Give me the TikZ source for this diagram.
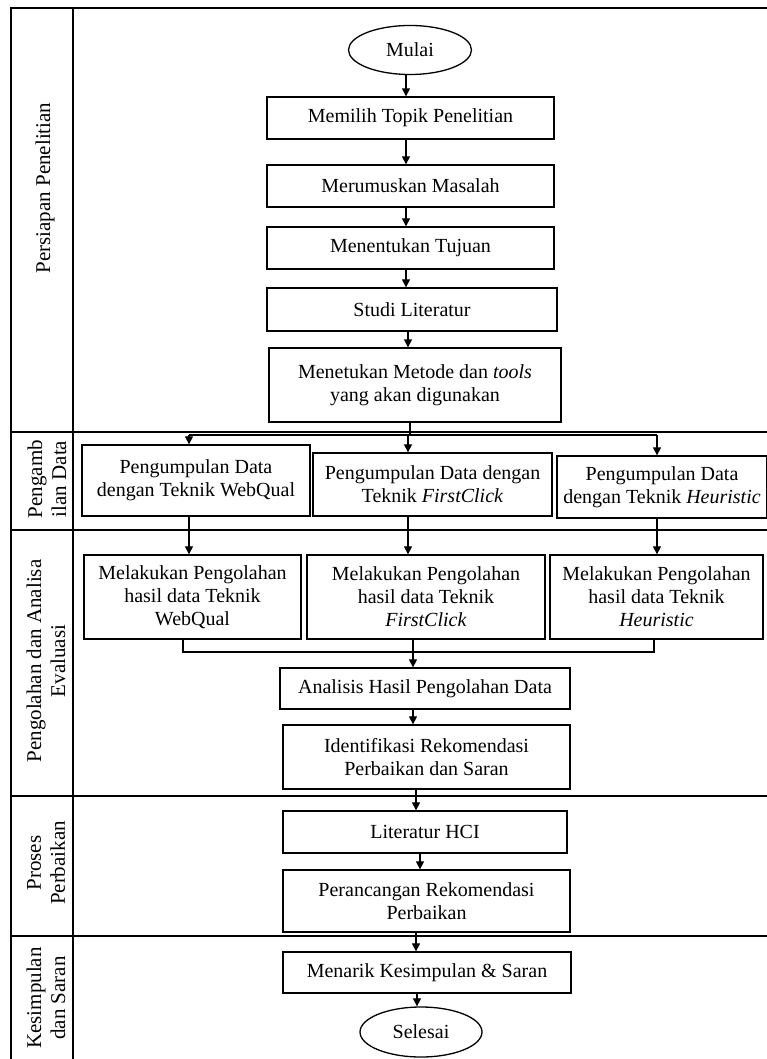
\documentclass[tikz,border=0pt]{standalone}
\usepackage{fontspec}
\setmainfont{Liberation Serif}
\usetikzlibrary{arrows.meta,shapes.geometric}
\begin{document}
\begin{tikzpicture}[x=1pt,y=-1pt,
  lane/.style={line width=1.6pt},
  box/.style={draw, line width=1.3pt, align=center, inner sep=0pt, font=\fontsize{20}{23}\selectfont},
  term/.style={draw, ellipse, line width=1.3pt, inner sep=0pt, font=\fontsize{20}{23}\selectfont},
  lbl/.style={rotate=90, align=center, font=\fontsize{21}{24}\selectfont},
  arr/.style={line width=1.2pt, -{Triangle[width=8pt,length=8pt]}},
  ln/.style={line width=1.2pt}]
\useasboundingbox (0,0) rectangle (767,1059);
% swimlane frame
\draw[lane] (11,1059) -- (11,8) -- (767,8);
\draw[lane] (73,8) -- (73,1059);
\draw[lane] (11,432) -- (767,432);
\draw[lane] (11,530) -- (767,530);
\draw[lane] (11,796) -- (767,796);
\draw[lane] (11,936) -- (767,936);
% lane labels
\node[lbl] (l1) at (45,188) {Persiapan Penelitian};
\node[lbl] (l2) at (47,479) {Pengamb\\ilan Data};
\node[lbl] (l3) at (46,661) {Pengolahan dan Analisa\\Evaluasi};
\node[lbl] (l4) at (46,863) {Proses\\Perbaikan};
\node[lbl] (l5) at (46,998) {Kesimpulan\\dan Saran};
% lane 1
\node[term, minimum width=123pt, minimum height=49pt] (mulai) at (410,50) {Mulai};
\node[box, minimum width=287pt, minimum height=42pt] (n1) at (410.5,118) {Memilih Topik Penelitian};
\node[box, minimum width=287pt, minimum height=42pt] (n2) at (410.5,186) {Merumuskan Masalah};
\node[box, minimum width=287pt, minimum height=42pt] (n3) at (410.5,248) {Menentukan Tujuan};
\node[box, minimum width=290pt, minimum height=43pt] (n4) at (412,309.5) {Studi Literatur};
\node[box, minimum width=292pt, minimum height=74pt] (n5) at (415,385) {Menetukan Metode dan \textit{tools}\\yang akan digunakan};
% lane 2
\node[box, minimum width=228pt, minimum height=71pt] (p1) at (196,480.5) {Pengumpulan Data\\dengan Teknik WebQual};
\node[box, minimum width=239pt, minimum height=63pt] (p2) at (432.5,484.5) {Pengumpulan Data dengan\\Teknik \textit{FirstClick}};
\node[box, minimum width=210pt, minimum height=62pt] (p3) at (662,487) {Pengumpulan Data\\dengan Teknik \textit{Heuristic}};
% lane 3
\node[box, minimum width=217pt, minimum height=84pt] (q1) at (192.5,597) {Melakukan Pengolahan\\hasil data Teknik\\WebQual};
\node[box, minimum width=238pt, minimum height=84pt] (q2) at (426,597) {Melakukan Pengolahan\\hasil data Teknik\\\textit{FirstClick}};
\node[box, minimum width=213pt, minimum height=84pt] (q3) at (656.5,597) {Melakukan Pengolahan\\hasil data Teknik\\\textit{Heuristic}};
\node[box, minimum width=290pt, minimum height=41pt] (an) at (425,688.5) {Analisis Hasil Pengolahan Data};
\node[box, minimum width=287pt, minimum height=64pt] (id) at (426.5,757) {Identifikasi Rekomendasi\\Perbaikan dan Saran};
% lane 4
\node[box, minimum width=284pt, minimum height=42pt] (lit) at (425,832) {Literatur HCI};
\node[box, minimum width=287pt, minimum height=62pt] (per) at (426.5,901) {Perancangan Rekomendasi\\Perbaikan};
% lane 5
\node[box, minimum width=288pt, minimum height=41pt] (mk) at (427,972.5) {Menarik Kesimpulan \& Saran};
\node[term, minimum width=122pt, minimum height=50pt] (sel) at (421,1032) {Selesai};
% connector columns
\coordinate (xa) at (406,0);
\coordinate (xb) at (408,0);
\coordinate (dist) at (410,435);
\coordinate (dl) at (189,435);
\coordinate (dm) at (408,435);
\coordinate (dr) at (657,435);
\coordinate (ml) at (183,652);
\coordinate (mm) at (413,652);
\coordinate (mr) at (654,652);
\coordinate (xc) at (416,0);
\coordinate (xd) at (420,0);
\coordinate (xe) at (417,0);
% connectors
\draw[arr] (mulai.south -| xa) -- (n1.north -| xa);
\draw[arr] (n1.south -| xa) -- (n2.north -| xa);
\draw[arr] (n2.south -| xa) -- (n3.north -| xa);
\draw[arr] (n3.south -| xa) -- (n4.north -| xa);
\draw[arr] (n4.south -| xb) -- (n5.north -| xb);
\draw[ln] (n5.south -| dist) -- (dist);
\draw[ln] (dl) -- (dr);
\draw[arr] (dl) -- (p1.north -| dl);
\draw[arr] (dm) -- (p2.north -| dm);
\draw[arr] (dr) -- (p3.north -| dr);
\draw[arr] (p1.south -| dl) -- (q1.north -| dl);
\draw[arr] (p2.south -| dm) -- (q2.north -| dm);
\draw[arr] (p3.south -| dr) -- (q3.north -| dr);
\draw[ln] (q1.south -| ml) -- (ml) -- (mr) -- (q3.south -| mr);
\draw[arr] (q2.south -| mm) -- (an.north -| mm);
\draw[arr] (an.south -| mm) -- (id.north -| mm);
\draw[arr] (id.south -| xc) -- (lit.north -| xc);
\draw[arr] (lit.south -| xd) -- (per.north -| xd);
\draw[arr] (per.south -| xc) -- (mk.north -| xc);
\draw[arr] (mk.south -| xe) -- (sel.north -| xe);
\end{tikzpicture}
\end{document}
